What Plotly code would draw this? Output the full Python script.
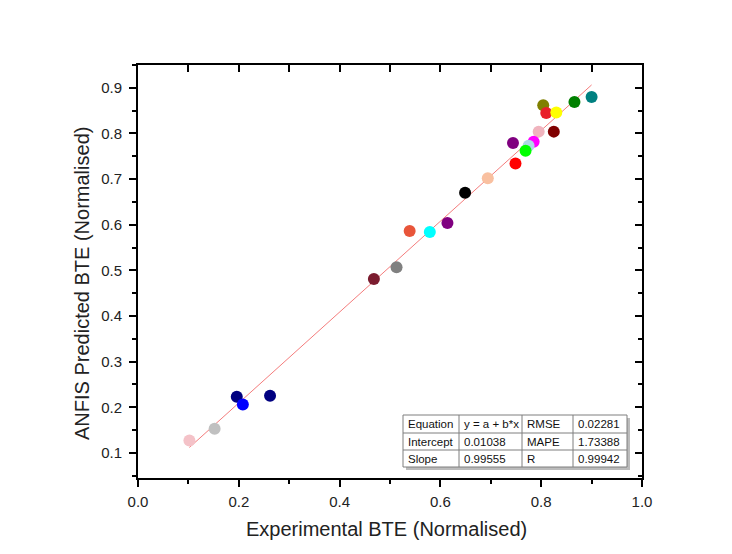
import plotly.graph_objects as go

# Data
exp_bte = [0.804, 0.810, 0.830, 0.866, 0.900, 0.795, 0.825, 0.744, 0.785, 0.775,
           0.769, 0.749, 0.694, 0.649, 0.614, 0.539, 0.579, 0.468, 0.513, 0.196,
           0.208, 0.262, 0.152, 0.102]
anfis_bte = [0.862, 0.845, 0.846, 0.869, 0.880, 0.804, 0.804, 0.779, 0.782, 0.773,
             0.762, 0.734, 0.702, 0.670, 0.604, 0.586, 0.584, 0.481, 0.507, 0.223,
             0.206, 0.225, 0.153, 0.127]
point_colors = ["#808000", "#E8202A", "#FFFF00", "#008000", "#008080", "#F0B4BE",
                "#800000", "#800080", "#FF00FF", "#ADD8E6", "#00FF00", "#FF0000",
                "#F9C0A0", "#000000", "#800080", "#E8553A", "#00FFFF", "#7B1C2F",
                "#808080", "#000080", "#0000FF", "#000080", "#C0C0C0", "#F4C2C8"]

intercept = 0.01038
slope = 0.99555
table_rows = [["Equation", "y = a + b*x", "RMSE", "0.02281"],
              ["Intercept", "0.01038", "MAPE", "1.73388"],
              ["Slope", "0.99555", "R", "0.99942"]]

x_ticks = [0.0, 0.2, 0.4, 0.6, 0.8, 1.0]
y_ticks = [0.1, 0.2, 0.3, 0.4, 0.5, 0.6, 0.7, 0.8, 0.9]

FONT = "Arial, Liberation Sans, sans-serif"
TXT = "#222222"

fig = go.Figure()

xmin, xmax = min(exp_bte), max(exp_bte)
fig.add_trace(go.Scatter(
    x=[xmin, xmax], y=[intercept + slope * xmin, intercept + slope * xmax],
    mode="lines", line=dict(color="#F47C7C", width=1), showlegend=False,
    hoverinfo="skip"))

fig.add_trace(go.Scatter(
    x=exp_bte, y=anfis_bte, mode="markers",
    marker=dict(size=12, color=point_colors, line=dict(width=0)),
    showlegend=False))

# Plot area geometry in pixels
L, R, T, B = 138, 642, 65, 478
W, H = R - L, B - T


def px(xp):
    return (xp - L) / W


def py(yp):
    return (B - yp) / H


axis_common = dict(showgrid=False, zeroline=False, showline=True, linecolor="black",
                   linewidth=2, mirror=False)

fig.update_layout(
    width=732, height=554,
    margin=dict(l=L, r=732 - R, t=T, b=554 - B),
    paper_bgcolor="white", plot_bgcolor="white",
    font=dict(family=FONT, color=TXT),
    xaxis=dict(range=[0, 1.0], tickvals=x_ticks, tickformat=".1f",
               ticks="outside", ticklen=7, tickwidth=1.5, tickcolor="black",
               ticklabelstandoff=2,
               tickfont=dict(size=15, family=FONT, color=TXT),
               minor=dict(dtick=0.1, tick0=0, ticks="outside", ticklen=4,
                          tickwidth=1.5, tickcolor="black"),
               **axis_common),
    yaxis=dict(range=[0.045, 0.95], tickvals=y_ticks, tickformat=".1f",
               ticks="outside", ticklen=7, tickwidth=1.5, tickcolor="black",
               ticklabelstandoff=4,
               tickfont=dict(size=15, family=FONT, color=TXT),
               minor=dict(dtick=0.05, tick0=0, ticks="outside", ticklen=4,
                          tickwidth=1.5, tickcolor="black"),
               **axis_common),
    xaxis2=dict(range=[0, 1.0], overlaying="x", side="top", tickvals=x_ticks,
                showticklabels=False, ticks="inside", ticklen=7, tickwidth=1.5,
                tickcolor="black",
                minor=dict(dtick=0.1, tick0=0, ticks="inside", ticklen=7,
                           tickwidth=1.5, tickcolor="black"),
                **axis_common),
    yaxis2=dict(range=[0.045, 0.95], overlaying="y", side="right", tickvals=y_ticks,
                showticklabels=False, ticks="inside", ticklen=7, tickwidth=1.5,
                tickcolor="black",
                minor=dict(dtick=0.05, tick0=0, ticks="inside", ticklen=4,
                           tickwidth=1.5, tickcolor="black"),
                **axis_common),
)

# dummy trace to activate secondary axes
fig.add_trace(go.Scatter(x=[None], y=[None], xaxis="x2", yaxis="y2",
                         showlegend=False, hoverinfo="skip"))

annotations = [
    dict(text="Experimental BTE (Normalised)", xref="paper", yref="paper",
         x=px(386), y=py(529), xanchor="center", yanchor="middle", showarrow=False,
         font=dict(size=20, family=FONT, color=TXT)),
    dict(text="ANFIS Predicted BTE (Normalised)", xref="paper", yref="paper",
         x=px(82), y=py(284), xanchor="center", yanchor="middle", showarrow=False,
         textangle=-90,
         font=dict(size=20, family=FONT, color=TXT)),
]

# Table
col_x = [403, 459, 522, 573, 627]
row_y = [415, 433, 450, 467]
shapes = []
shapes.append(dict(type="rect", xref="paper", yref="paper",
                   x0=px(col_x[0] + 3), x1=px(col_x[-1] + 3),
                   y0=py(row_y[-1] + 3), y1=py(row_y[0] + 3),
                   fillcolor="#BBBBBB", line=dict(width=0), layer="above"))
shapes.append(dict(type="rect", xref="paper", yref="paper",
                   x0=px(col_x[0]), x1=px(col_x[-1]),
                   y0=py(row_y[-1]), y1=py(row_y[0]),
                   fillcolor="white", line=dict(color="#7F7F7F", width=1),
                   layer="above"))
for cx in col_x[1:-1]:
    shapes.append(dict(type="line", xref="paper", yref="paper",
                       x0=px(cx), x1=px(cx), y0=py(row_y[0]), y1=py(row_y[-1]),
                       line=dict(color="#7F7F7F", width=1), layer="above"))
for ry in row_y[1:-1]:
    shapes.append(dict(type="line", xref="paper", yref="paper",
                       x0=px(col_x[0]), x1=px(col_x[-1]), y0=py(ry), y1=py(ry),
                       line=dict(color="#7F7F7F", width=1), layer="above"))

for i, row in enumerate(table_rows):
    yc = (row_y[i] + row_y[i + 1]) / 2
    for j, txt in enumerate(row):
        annotations.append(dict(text=txt, xref="paper", yref="paper",
                                x=px(col_x[j] + 3), y=py(yc), xanchor="left",
                                yanchor="middle", showarrow=False,
                                font=dict(size=11.5, family=FONT, color="#111111")))

fig.update_layout(shapes=shapes, annotations=annotations)

fig.write_html("out.html")
